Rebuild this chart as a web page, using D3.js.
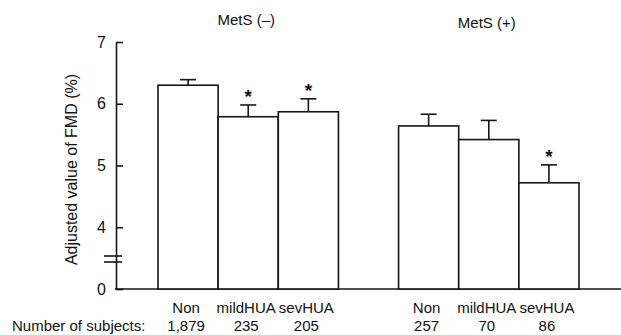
<!DOCTYPE html>
<html>
<head>
<meta charset="utf-8">
<script src="https://cdn.jsdelivr.net/npm/d3@7"></script>
<style>
  body { margin: 0; background: #fff; }
  svg text { font-family: "Liberation Sans", Arial, sans-serif; fill: #111; }
</style>
</head>
<body>
<div id="chart"></div>
<script>
// data
var groups = ["MetS (\u2013)", "MetS (+)"];
var categories = ["Non", "mildHUA", "sevHUA"];
var fmdMean = [[6.30, 5.79, 5.87], [5.64, 5.42, 4.72]];
var fmdUpper = [[6.39, 5.98, 6.08], [5.83, 5.73, 5.01]];
var significant = [[false, true, true], [false, false, true]];
var subjects = [["1,879", "235", "205"], ["257", "70", "86"]];
var yTicks = [3, 4, 5, 6, 7];
var yTickLabels = ["0", "4", "5", "6", "7"];

var width = 621, height = 335;
var ink = "#151515";
var fs = 15;

var svg = d3.select("#chart").append("svg")
    .attr("width", width)
    .attr("height", height);

var y = d3.scaleLinear()
    .domain([3, 7])
    .range([289, 42]);

var xGroup = d3.scaleBand()
    .domain(groups)
    .range([158, 579])
    .paddingInner(0.25);

var xCat = d3.scaleBand()
    .domain(categories)
    .range([0, xGroup.bandwidth()])
    .padding(0);

// y axis, ticks point into the plot
var yAxis = d3.axisLeft(y)
    .tickValues(yTicks)
    .tickSizeInner(-7)
    .tickSizeOuter(0)
    .tickPadding(10)
    .tickFormat(function (d, i) { return yTickLabels[i]; });

var ag = svg.append("g")
    .attr("transform", "translate(116,0)")
    .call(yAxis);
ag.select(".domain").attr("stroke", ink).attr("stroke-width", 1.6);
ag.selectAll(".tick line").attr("stroke", ink).attr("stroke-width", 1.6);
ag.selectAll(".tick text").attr("font-size", 16).attr("fill", ink);

// axis break marks
[256, 262].forEach(function (yy) {
    svg.append("line")
        .attr("x1", 104).attr("x2", 122)
        .attr("y1", yy).attr("y2", yy)
        .attr("stroke", ink).attr("stroke-width", 1.6);
});

// baseline
svg.append("line")
    .attr("x1", 115).attr("x2", width)
    .attr("y1", y(3)).attr("y2", y(3))
    .attr("stroke", ink).attr("stroke-width", 1.6);

svg.append("text")
    .attr("transform", "translate(77," + (y(3) + y(7) + 8) / 2 + ") rotate(-90)")
    .attr("text-anchor", "middle")
    .attr("font-size", 16)
    .text("Adjusted value of FMD (%)");

groups.forEach(function (g, gi) {
    var gx = xGroup(g);
    var gg = svg.append("g").attr("transform", "translate(" + gx + ",0)");

    svg.append("text")
        .attr("x", gx + xGroup.bandwidth() / 2 - 2)
        .attr("y", 25 + gi * 3) // scan is slightly tilted
        .attr("text-anchor", "middle")
        .attr("font-size", fs)
        .text(g);

    var rows = categories.map(function (c, i) {
        return { cat: c, mean: fmdMean[gi][i], upper: fmdUpper[gi][i], sig: significant[gi][i], n: subjects[gi][i] };
    });

    // error bars behind bars
    gg.selectAll(".stem").data(rows).enter().append("line")
        .attr("x1", function (d) { return xCat(d.cat) + xCat.bandwidth() / 2; })
        .attr("x2", function (d) { return xCat(d.cat) + xCat.bandwidth() / 2; })
        .attr("y1", function (d) { return y(d.mean); })
        .attr("y2", function (d) { return y(d.upper); })
        .attr("stroke", ink).attr("stroke-width", 1.6);

    gg.selectAll(".cap").data(rows).enter().append("line")
        .attr("x1", function (d) { return xCat(d.cat) + xCat.bandwidth() / 2 - 8; })
        .attr("x2", function (d) { return xCat(d.cat) + xCat.bandwidth() / 2 + 8; })
        .attr("y1", function (d) { return y(d.upper); })
        .attr("y2", function (d) { return y(d.upper); })
        .attr("stroke", ink).attr("stroke-width", 1.6);

    gg.selectAll("rect").data(rows).enter().append("rect")
        .attr("x", function (d) { return xCat(d.cat); })
        .attr("width", xCat.bandwidth())
        .attr("y", function (d) { return y(d.mean); })
        .attr("height", function (d) { return y(3) - y(d.mean); })
        .attr("fill", "#fff")
        .attr("stroke", ink).attr("stroke-width", 1.6);

    gg.selectAll(".star").data(rows.filter(function (d) { return d.sig; })).enter().append("text")
        .attr("x", function (d) { return xCat(d.cat) + xCat.bandwidth() / 2; })
        .attr("y", function (d) { return y(d.upper) - 2; })
        .attr("text-anchor", "middle")
        .attr("font-size", 19)
        .attr("font-weight", "bold")
        .text("*");

    gg.selectAll(".cat").data(rows).enter().append("text")
        .attr("x", function (d) { return xCat(d.cat) + xCat.bandwidth() / 2 - 2; })
        .attr("y", 313)
        .attr("text-anchor", "middle")
        .attr("font-size", fs)
        .text(function (d) { return d.cat; });

    gg.selectAll(".num").data(rows).enter().append("text")
        .attr("x", function (d) { return xCat(d.cat) + xCat.bandwidth() / 2 - 2; })
        .attr("y", 331)
        .attr("text-anchor", "middle")
        .attr("font-size", fs)
        .text(function (d) { return d.n; });
});

svg.append("text")
    .attr("x", 12)
    .attr("y", 331)
    .attr("font-size", fs)
    .text("Number of subjects:");
</script>
</body>
</html>
